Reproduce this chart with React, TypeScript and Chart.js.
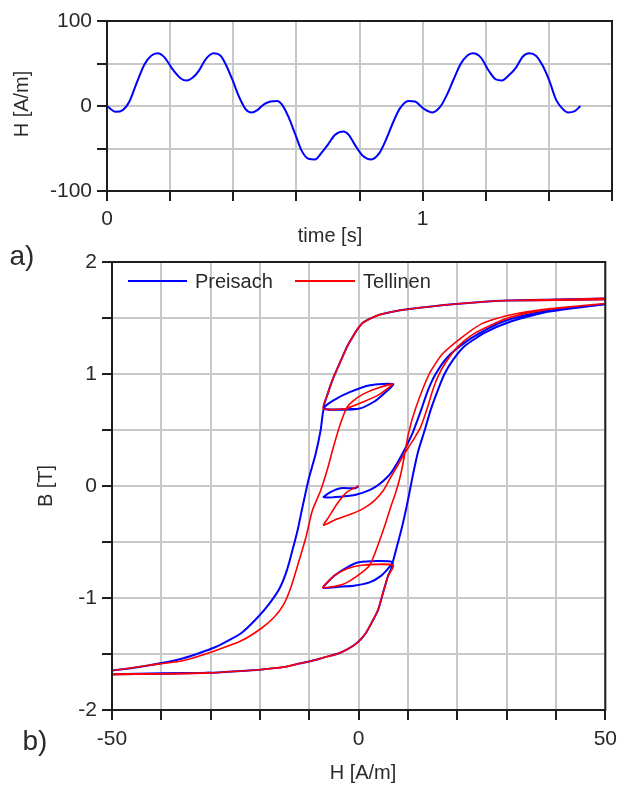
import React, { useEffect, useRef } from 'react';
import { Chart, registerables } from 'chart.js';

Chart.register(...registerables);

// ---------- a) excitation H(t) ----------
const timeS = [0, 0.027, 0.05, 0.071, 0.092, 0.119, 0.14, 0.161, 0.182, 0.208, 0.234, 0.252, 0.271, 0.292, 0.313, 0.339, 0.36, 0.376, 0.397, 0.418, 0.439, 0.458, 0.476, 0.497, 0.518, 0.539, 0.554, 0.575, 0.596, 0.617, 0.638, 0.659, 0.68, 0.701, 0.722, 0.749, 0.766, 0.784, 0.811, 0.837, 0.864, 0.885, 0.907, 0.928, 0.955, 0.976, 1.002, 1.031, 1.056, 1.077, 1.098, 1.12, 1.141, 1.159, 1.184, 1.21, 1.232, 1.251, 1.274, 1.296, 1.317, 1.338, 1.359, 1.381, 1.402, 1.423, 1.445, 1.461, 1.482, 1.5];
const fieldH = [0, -6.8, -4.8, 5.2, 25.2, 49.2, 59.2, 62, 57.2, 43.2, 32.4, 30, 33.2, 42, 55.2, 62, 59.2, 49.2, 31.2, 11.2, -3.6, -7.6, -4.8, 2, 5.2, 6, 2, -12.8, -32.8, -52.8, -62, -62.8, -54.8, -44.8, -34, -30, -34, -44.8, -58.8, -62.8, -54.8, -38.8, -18.8, -2.8, 6, 5.2, -2.8, -7.6, -0.8, 13.2, 31.2, 49.2, 59.2, 62, 57.2, 41.2, 31.2, 30, 36.4, 45.2, 58, 62, 59.2, 47, 29.2, 7.2, -4, -7.6, -6, 0];

const timeTicksLabelled = [0, 1];
const hTicksLabelled = [-100, 0, 100];

// ---------- b) B-H trajectories [H (A/m), B (T)] in time order ----------
const seriesNames = ['Preisach', 'Tellinen'];

const preisachHB: [number, number][] = [
  [0, 0], [-0.7, -0.02], [-3.7, -0.02], [-5.7, -0.055], [-7.1, -0.1],
  [-3.7, -0.095], [-0.4, -0.075], [2.3, -0.035], [4.3, 0.02], [6.6, 0.12], [8.9, 0.29], [10.9, 0.47], [12.6, 0.67], [14, 0.85], [15.6, 1.0], [18, 1.15], [21.5, 1.28], [26, 1.4], [30, 1.48], [37.6, 1.56], [45, 1.6], [50, 1.625], [62, 1.69],
  [50, 1.675], [40, 1.665], [30, 1.656],
  [40, 1.66], [50, 1.668], [62, 1.69],
  [50, 1.675], [40, 1.665], [30, 1.656], [20.3, 1.627], [10.3, 1.58], [4.3, 1.53], [0.9, 1.46], [-0.4, 1.39], [-1.5, 1.31], [-2.4, 1.24], [-3.5, 1.13], [-5.1, 0.97], [-6.3, 0.82], [-7, 0.69],
  [0, 0.69], [3, 0.75], [5, 0.82], [7, 0.91],
  [2.3, 0.9], [-1.7, 0.84], [-5.1, 0.765], [-7, 0.7], [-7.7, 0.5], [-8.7, 0.29], [-10.2, 0.05], [-11.4, -0.19], [-12.4, -0.4], [-13.4, -0.57], [-14.6, -0.76], [-16.1, -0.92], [-18.1, -1.05], [-20.4, -1.17], [-23.7, -1.31], [-29.1, -1.44], [-35.7, -1.54], [-42.4, -1.6], [-50, -1.647], [-63, -1.69],
  [-50, -1.68], [-40, -1.676], [-30, -1.668],
  [-40, -1.672], [-50, -1.68], [-63, -1.69],
  [-50, -1.68], [-40, -1.676], [-30, -1.668], [-25, -1.655], [-20, -1.64], [-15, -1.615], [-12, -1.585], [-9, -1.555], [-7, -1.53], [-4.4, -1.5], [-2.4, -1.46], [-0.9, -1.42], [0.4, -1.37], [1.5, -1.31], [2.4, -1.24], [3.9, -1.11], [4.9, -0.96], [5.9, -0.81], [6.9, -0.68],
  [0, -0.68], [-2.5, -0.73], [-4.9, -0.8], [-7.2, -0.91],
  [-4.1, -0.9], [-1, -0.89], [2.2, -0.86], [4.6, -0.8], [6.3, -0.72], [6.9, -0.68], [7.7, -0.55], [8.6, -0.4], [9.4, -0.25], [10.2, -0.08], [11, 0.1], [12, 0.3], [13.4, 0.5], [14.6, 0.68], [16, 0.85], [17.4, 1.0], [19.2, 1.13], [21.5, 1.25], [25.6, 1.37], [30.3, 1.46], [37.6, 1.55], [49.6, 1.62], [62, 1.68],
  [50, 1.675], [40, 1.665], [30, 1.656], [40, 1.66], [50, 1.668], [62, 1.69],
  [50, 1.675], [40, 1.665], [30, 1.656], [20.3, 1.627], [10.3, 1.58], [4.3, 1.53], [0.9, 1.46], [-0.4, 1.39], [-1.5, 1.31], [-2.4, 1.24], [-3.5, 1.13], [-5.1, 0.97], [-6.3, 0.82], [-7, 0.69],
  [0, 0.69],
];

const tellinenHB: [number, number][] = [
  [0, 0], [-0.5, -0.01], [-2.4, -0.055], [-4.4, -0.16], [-6.1, -0.28], [-7.1, -0.35],
  [-4.4, -0.295], [-1.5, -0.25], [1, -0.2], [3.2, -0.13], [5, -0.04], [6.4, 0.07], [8, 0.19], [9.6, 0.31], [11.2, 0.42], [12.6, 0.53], [13.8, 0.68], [14.9, 0.84], [16.1, 0.98], [17.6, 1.1], [20, 1.24], [23, 1.35], [27, 1.44], [31, 1.51], [38, 1.575], [50, 1.63], [62, 1.69],
  [50, 1.675], [40, 1.665], [30, 1.656], [40, 1.658], [50, 1.666], [62, 1.69],
  [50, 1.675], [40, 1.665], [30, 1.656], [20.3, 1.627], [10.3, 1.58], [4.3, 1.53], [0.9, 1.46], [-0.4, 1.39], [-1.5, 1.31], [-2.4, 1.24], [-3.5, 1.13], [-5.1, 0.97], [-6.3, 0.82], [-7.2, 0.69],
  [-2.7, 0.69], [0.9, 0.75], [4.3, 0.82], [6.9, 0.91],
  [3.6, 0.87], [0.9, 0.82], [-1.1, 0.76], [-2.4, 0.7], [-3.7, 0.555], [-5.1, 0.35], [-6.4, 0.14], [-7.7, -0.04], [-9.4, -0.22], [-10.7, -0.46], [-12.1, -0.67], [-13.7, -0.9], [-15.1, -1.05], [-17.1, -1.17], [-19.7, -1.27], [-23.7, -1.38], [-29.1, -1.47], [-35.7, -1.56], [-42.4, -1.6], [-50, -1.647], [-63, -1.69],
  [-50, -1.682], [-40, -1.679], [-30, -1.672], [-40, -1.676], [-50, -1.685], [-63, -1.695],
  [-50, -1.68], [-40, -1.676], [-30, -1.668], [-25, -1.655], [-20, -1.64], [-15, -1.615], [-12, -1.585], [-9, -1.555], [-7, -1.53], [-4.4, -1.5], [-2.4, -1.46], [-0.9, -1.42], [0.4, -1.37], [1.5, -1.31], [2.4, -1.24], [3.9, -1.11], [4.9, -0.96], [5.9, -0.81], [7, -0.707],
  [0.6, -0.707], [-2.5, -0.74], [-4.9, -0.8], [-7.3, -0.907],
  [-3.3, -0.88], [-0.2, -0.8], [2.2, -0.71], [3.3, -0.6], [4.3, -0.48], [5.4, -0.34], [6.4, -0.2], [7.5, -0.06], [8.4, 0.08], [9.2, 0.25], [10.1, 0.47], [11.6, 0.7], [14.3, 1.0], [17, 1.18], [21, 1.33], [25, 1.45], [30, 1.52], [38, 1.58], [50, 1.63], [62, 1.69],
  [50, 1.675], [40, 1.665], [30, 1.656], [40, 1.658], [50, 1.666], [62, 1.69],
  [50, 1.675], [40, 1.665], [30, 1.656], [20.3, 1.627], [10.3, 1.58], [4.3, 1.53], [0.9, 1.46], [-0.4, 1.39], [-1.5, 1.31], [-2.4, 1.24], [-3.5, 1.13], [-5.1, 0.97], [-6.3, 0.82], [-7.2, 0.69],
  [-2.7, 0.69], [0, 0.735],
];

const bhXTicksLabelled = [-50, 0, 50];
const bhYTicksLabelled = [-2, -1, 0, 1, 2];

// ---------- styling ----------
const FONT = '"Liberation Sans", Arial, Helvetica, sans-serif';
const TEXT = '#2a2a2a';
const GRID = '#c8c8c8';
const AXIS = '#1e1e1e';
const BLUE = '#0000ff';
const RED = '#ff0000';

const framePlugin = {
  id: 'frame',
  afterDraw(chart: any) {
    const { ctx, chartArea: a } = chart;
    ctx.save();
    ctx.strokeStyle = AXIS;
    ctx.lineWidth = 2;
    ctx.strokeRect(a.left, a.top, a.right - a.left, a.bottom - a.top);
    ctx.restore();
  },
};

const labelIf = (list: number[]) => (v: any) => {
  const n = Number(v);
  const hit = list.find((t) => Math.abs(t - n) < 1e-6);
  return hit === undefined ? '' : String(hit);
};

function axis(min: number, max: number, step: number, labels: number[], fit: (s: any) => void, pad: number) {
  return {
    type: 'linear',
    min,
    max,
    afterFit: fit,
    ticks: {
      stepSize: step,
      autoSkip: false,
      maxRotation: 0,
      minRotation: 0,
      padding: pad,
      font: { family: FONT, size: 21 },
      color: TEXT,
      callback: labelIf(labels),
    },
    grid: { color: GRID, lineWidth: 2, tickColor: AXIS, tickLength: 10, tickWidth: 2 },
    border: { display: true, color: AXIS, width: 2 },
  } as any;
}

function Label(props: { x: number; y: number; text: string; size?: number; rotate?: boolean; left?: boolean }) {
  const { x, y, text, size = 20, rotate, left } = props;
  return (
    <div
      style={{
        position: 'absolute',
        left: x,
        top: y,
        transform: `translate(${left ? '0' : '-50%'}, -50%)${rotate ? ' rotate(-90deg)' : ''}`,
        fontSize: size,
        lineHeight: 1,
        whiteSpace: 'nowrap',
        color: TEXT,
        fontFamily: FONT,
      }}
    >
      {text}
    </div>
  );
}

export default function App() {
  const topRef = useRef<HTMLCanvasElement>(null);
  const botRef = useRef<HTMLCanvasElement>(null);

  useEffect(() => {
    const top = new Chart(topRef.current as HTMLCanvasElement, {
      type: 'scatter',
      data: {
        datasets: [
          {
            label: 'H',
            data: timeS.map((t, i) => ({ x: t, y: fieldH[i] })),
            showLine: true,
            borderColor: BLUE,
            backgroundColor: BLUE,
            borderWidth: 2,
            pointRadius: 0,
            cubicInterpolationMode: 'monotone',
            fill: false,
          } as any,
        ],
      },
      options: {
        responsive: false,
        maintainAspectRatio: false,
        animation: false,
        events: [],
        layout: { padding: { top: 21, right: 12, left: 0, bottom: 0 } },
        plugins: { legend: { display: false }, tooltip: { enabled: false } },
        scales: {
          x: axis(0, 1.6, 0.2, timeTicksLabelled, (s: any) => { s.height = 59; }, 6),
          y: axis(-100, 100, 50, hTicksLabelled, (s: any) => { s.width = 107; }, 5),
        },
      },
      plugins: [framePlugin],
    });

    const bottom = new Chart(botRef.current as HTMLCanvasElement, {
      type: 'scatter',
      data: {
        datasets: [
          {
            label: seriesNames[0],
            data: preisachHB.map(([h, b]) => ({ x: h, y: b })),
            showLine: true,
            borderColor: BLUE,
            backgroundColor: BLUE,
            borderWidth: 2,
            pointRadius: 0,
            tension: 0.2,
            order: 1,
          } as any,
          {
            label: seriesNames[1],
            data: tellinenHB.map(([h, b]) => ({ x: h, y: b })),
            showLine: true,
            borderColor: RED,
            backgroundColor: RED,
            borderWidth: 1.6,
            pointRadius: 0,
            tension: 0.2,
            order: 0,
          } as any,
        ],
      },
      options: {
        responsive: false,
        maintainAspectRatio: false,
        animation: false,
        events: [],
        layout: { padding: { top: 18, right: 12, left: 0, bottom: 0 } },
        plugins: { legend: { display: false }, tooltip: { enabled: false } },
        scales: {
          x: axis(-50, 50, 10, bhXTicksLabelled, (s: any) => { s.height = 75; }, 7),
          y: axis(-2, 2, 0.5, bhYTicksLabelled, (s: any) => { s.width = 112; }, 5),
        },
      },
      plugins: [framePlugin],
    });

    return () => {
      top.destroy();
      bottom.destroy();
    };
  }, []);

  return (
    <div style={{ position: 'absolute', left: 0, top: 0, width: 624, height: 785, background: '#fff', overflow: 'hidden' }}>
      <canvas ref={topRef} width={624} height={250} style={{ position: 'absolute', left: 0, top: 0, width: 624, height: 250 }} />
      <canvas ref={botRef} width={624} height={541} style={{ position: 'absolute', left: 0, top: 244, width: 624, height: 541 }} />

      <Label x={21} y={104} text="H [A/m]" rotate />
      <Label x={330} y={235} text="time [s]" />
      <Label x={22} y={256} text="a)" size={28} />

      <Label x={45} y={486} text="B [T]" rotate />
      <Label x={363} y={772} text="H [A/m]" />
      <Label x={35} y={741} text="b)" size={28} />

      <div style={{ position: 'absolute', left: 128, top: 280, width: 59, height: 0, borderTop: `2px solid ${BLUE}` }} />
      <Label x={195} y={281} text={seriesNames[0]} left />
      <div style={{ position: 'absolute', left: 295, top: 280, width: 60, height: 0, borderTop: `2px solid ${RED}` }} />
      <Label x={363} y={281} text={seriesNames[1]} left />
    </div>
  );
}
